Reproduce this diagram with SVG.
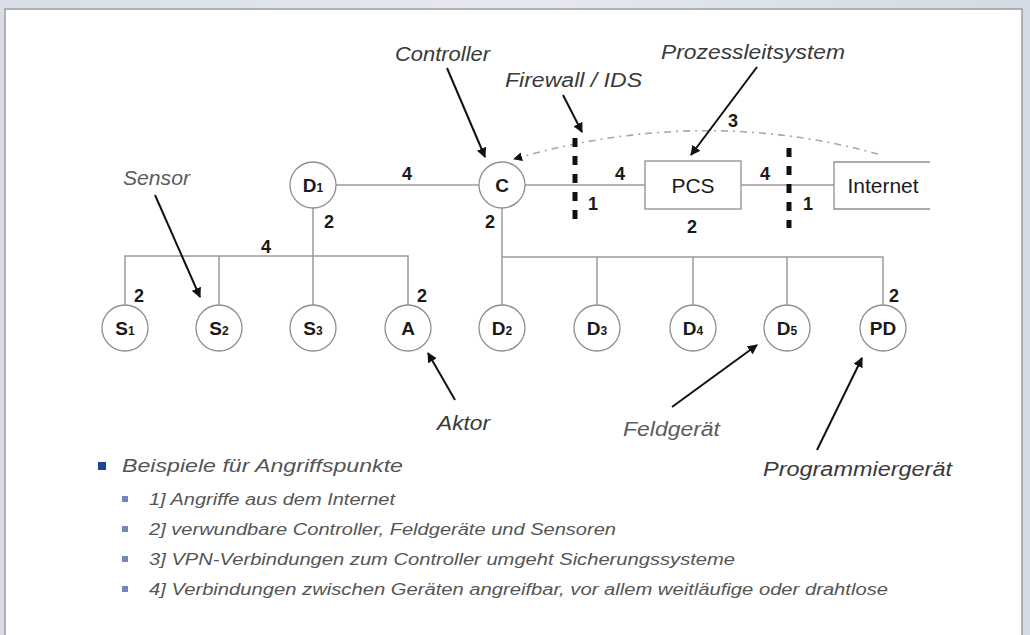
<svg xmlns="http://www.w3.org/2000/svg" width="1030" height="635" viewBox="0 0 1030 635">
<defs>
  <linearGradient id="bg" x1="0" y1="0" x2="1" y2="0">
    <stop offset="0" stop-color="#d9dee6"/>
    <stop offset="0.5" stop-color="#e6e9ee"/>
    <stop offset="1" stop-color="#d4dae3"/>
  </linearGradient>
  <marker id="ah" viewBox="0 0 10 10" refX="9" refY="5" markerWidth="5" markerHeight="5" orient="auto" markerUnits="strokeWidth">
    <path d="M0,0 L10,5 L0,10 z" fill="#111"/>
  </marker>
  <marker id="ahc" viewBox="0 0 10 10" refX="9" refY="5" markerWidth="9" markerHeight="9" orient="auto" markerUnits="userSpaceOnUse">
    <path d="M0,0 L10,5 L0,10 z" fill="#111"/>
  </marker>
  <style>
    .ln{stroke:#9a9a9a;stroke-width:1.5;fill:none}
    .nd{fill:#fff;stroke:#8f8f8f;stroke-width:1.3}
    .nl{font-family:"Liberation Sans",Arial,sans-serif;font-size:19px;font-weight:bold;fill:#1a1a1a;text-anchor:middle}
    .sub{font-size:12px}
    .bx{font-family:"Liberation Sans",Arial,sans-serif;font-size:21px;fill:#1a1a1a;text-anchor:middle}
    .num{font-family:"Liberation Sans",Arial,sans-serif;font-size:18px;font-weight:bold;fill:#1a1a1a;text-anchor:middle}
    .ann{font-family:"Liberation Sans",Arial,sans-serif;font-size:20px;font-style:italic;fill:#3a3a3a}
    .ann2{fill:#5c5c5c}
    .arr{stroke:#111;stroke-width:2;fill:none}
    .fw{stroke:#111;stroke-width:5;stroke-dasharray:9 9;fill:none}
    .vpn{stroke:#a8a8a8;stroke-width:1.6;stroke-dasharray:7 5 2 5;fill:none}
    .lst{font-family:"Liberation Sans",Arial,sans-serif;font-style:italic;fill:#555}
  </style>
</defs>
<rect x="0" y="0" width="1030" height="635" fill="url(#bg)"/>
<rect x="5" y="9" width="1017" height="640" fill="#fff" stroke="#9c9c9c" stroke-width="1.5"/>

<g id="connectors">
  <line class="ln" x1="336" y1="185" x2="479" y2="185"/>
  <line class="ln" x1="525" y1="185" x2="645" y2="185"/>
  <line class="ln" x1="741" y1="185" x2="834" y2="185"/>
  <line class="ln" x1="313" y1="208" x2="313" y2="305"/>
  <polyline class="ln" points="125,305 125,256 408,256 408,305"/>
  <line class="ln" x1="219" y1="256" x2="219" y2="305"/>
  <line class="ln" x1="502" y1="208" x2="502" y2="305"/>
  <polyline class="ln" points="502,257 883,257 883,305"/>
  <line class="ln" x1="597" y1="257" x2="597" y2="305"/>
  <line class="ln" x1="693" y1="257" x2="693" y2="305"/>
  <line class="ln" x1="787" y1="257" x2="787" y2="305"/>
  <path class="vpn" d="M878,154 Q700,105 514,159" marker-end="url(#ahc)"/>
  <line class="arr" x1="447" y1="68" x2="485" y2="157" marker-end="url(#ah)"/>
  <line class="arr" x1="563" y1="95" x2="582" y2="132" marker-end="url(#ah)"/>
  <line class="arr" x1="757" y1="67" x2="691" y2="155" marker-end="url(#ah)"/>
  <line class="arr" x1="155" y1="195" x2="200" y2="297" marker-end="url(#ah)"/>
  <line class="arr" x1="455" y1="400" x2="428" y2="353" marker-end="url(#ah)"/>
  <line class="arr" x1="672" y1="407" x2="757" y2="345" marker-end="url(#ah)"/>
  <line class="arr" x1="817" y1="450" x2="862" y2="358" marker-end="url(#ah)"/>
</g>

<g id="firewall1"><line class="fw" x1="575" y1="138" x2="575" y2="228"/></g>
<g id="firewall2"><line class="fw" x1="789" y1="148" x2="789" y2="228"/></g>

<g id="D1"><circle class="nd" cx="313" cy="185" r="23"/><text class="nl" x="313" y="192">D<tspan class="sub">1</tspan></text></g>
<g id="C"><circle class="nd" cx="502" cy="185" r="23"/><text class="nl" x="502" y="192">C</text></g>
<g id="PCS"><rect class="nd" x="645" y="161" width="96" height="48"/><text class="bx" x="693" y="193">PCS</text></g>
<g id="Internet"><path d="M930,162 H834 V209 H930" fill="#fff" stroke="#8f8f8f" stroke-width="1.3"/><text class="bx" x="883" y="193">Internet</text></g>
<g id="S1"><circle class="nd" cx="125" cy="328" r="23"/><text class="nl" x="125" y="335">S<tspan class="sub">1</tspan></text></g>
<g id="S2"><circle class="nd" cx="219" cy="328" r="23"/><text class="nl" x="219" y="335">S<tspan class="sub">2</tspan></text></g>
<g id="S3"><circle class="nd" cx="313" cy="328" r="23"/><text class="nl" x="313" y="335">S<tspan class="sub">3</tspan></text></g>
<g id="A"><circle class="nd" cx="408" cy="328" r="23"/><text class="nl" x="408" y="335">A</text></g>
<g id="D2"><circle class="nd" cx="502" cy="328" r="23"/><text class="nl" x="502" y="335">D<tspan class="sub">2</tspan></text></g>
<g id="D3"><circle class="nd" cx="597" cy="328" r="23"/><text class="nl" x="597" y="335">D<tspan class="sub">3</tspan></text></g>
<g id="D4"><circle class="nd" cx="693" cy="328" r="23"/><text class="nl" x="693" y="335">D<tspan class="sub">4</tspan></text></g>
<g id="D5"><circle class="nd" cx="787" cy="328" r="23"/><text class="nl" x="787" y="335">D<tspan class="sub">5</tspan></text></g>
<g id="PD"><circle class="nd" cx="883" cy="328" r="23"/><text class="nl" x="883" y="335">PD</text></g>

<g id="numbers">
  <text class="num" x="407" y="180">4</text>
  <text class="num" x="266" y="253">4</text>
  <text class="num" x="620" y="180">4</text>
  <text class="num" x="765" y="180">4</text>
  <text class="num" x="329" y="228">2</text>
  <text class="num" x="490" y="228">2</text>
  <text class="num" x="692" y="233">2</text>
  <text class="num" x="139" y="302">2</text>
  <text class="num" x="422" y="302">2</text>
  <text class="num" x="894" y="302">2</text>
  <text class="num" x="593" y="210">1</text>
  <text class="num" x="808" y="210">1</text>
  <text class="num" x="733" y="127">3</text>
</g>

<g id="annotations">
  <text class="ann" x="395" y="61" textLength="95" lengthAdjust="spacingAndGlyphs">Controller</text>
  <text class="ann" x="661" y="59" textLength="184" lengthAdjust="spacingAndGlyphs">Prozessleitsystem</text>
  <text class="ann" x="505" y="87" textLength="137" lengthAdjust="spacingAndGlyphs">Firewall / IDS</text>
  <text class="ann ann2" x="123" y="185" textLength="67" lengthAdjust="spacingAndGlyphs">Sensor</text>
  <text class="ann" x="437" y="430" textLength="53" lengthAdjust="spacingAndGlyphs">Aktor</text>
  <text class="ann ann2" x="623" y="436" textLength="97" lengthAdjust="spacingAndGlyphs">Feldgerät</text>
  <text class="ann" x="763" y="476" textLength="189" lengthAdjust="spacingAndGlyphs">Programmiergerät</text>
</g>

<g id="legend">
  <rect x="98" y="462" width="8" height="8" fill="#1e4a8c"/>
  <text class="lst" x="122" y="472" font-size="19" textLength="281" lengthAdjust="spacingAndGlyphs">Beispiele für Angriffspunkte</text>
  <rect x="122" y="496" width="6" height="6" fill="#7088b4"/>
  <text class="lst" x="149" y="505" font-size="16" textLength="246" lengthAdjust="spacingAndGlyphs">1] Angriffe aus dem Internet</text>
  <rect x="122" y="526" width="6" height="6" fill="#7088b4"/>
  <text class="lst" x="149" y="535" font-size="16" textLength="467" lengthAdjust="spacingAndGlyphs">2] verwundbare Controller, Feldgeräte und Sensoren</text>
  <rect x="122" y="556" width="6" height="6" fill="#7088b4"/>
  <text class="lst" x="149" y="565" font-size="16" textLength="586" lengthAdjust="spacingAndGlyphs">3] VPN-Verbindungen zum Controller umgeht Sicherungssysteme</text>
  <rect x="122" y="586" width="6" height="6" fill="#7088b4"/>
  <text class="lst" x="149" y="595" font-size="16" textLength="739" lengthAdjust="spacingAndGlyphs">4] Verbindungen zwischen Geräten angreifbar, vor allem weitläufige oder drahtlose</text>
</g>
</svg>
